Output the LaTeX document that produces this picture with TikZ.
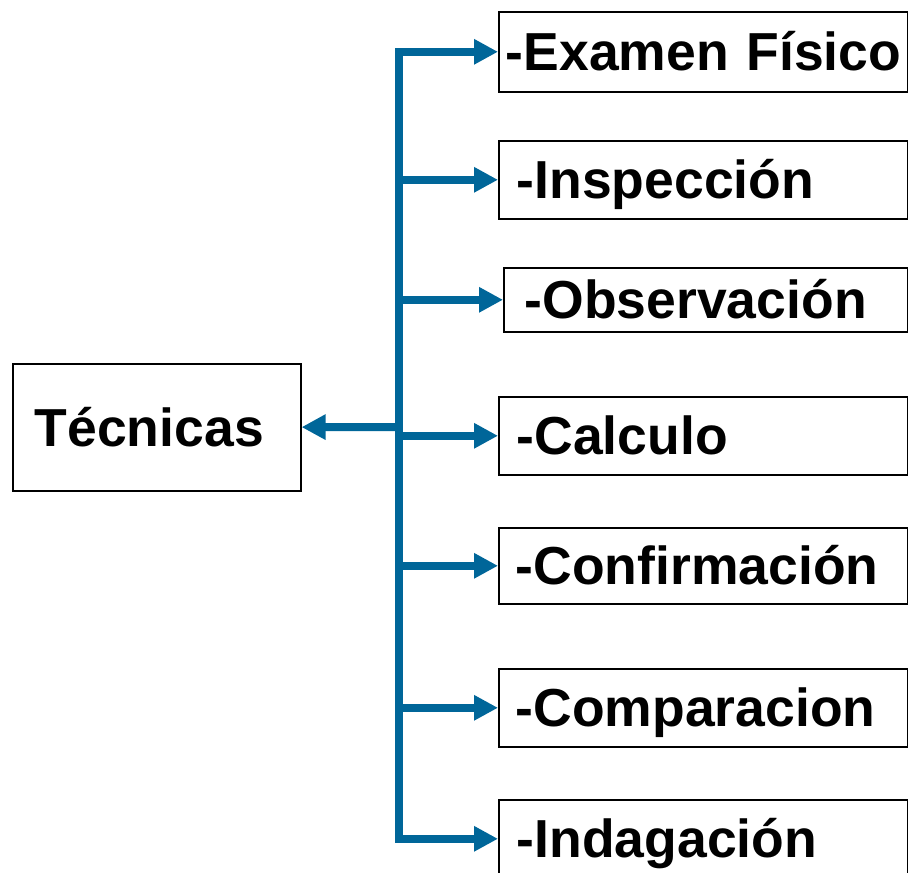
\documentclass[tikz,border=0pt]{standalone}
\usepackage{fontspec}
\setmainfont{Liberation Sans}
\usetikzlibrary{arrows.meta}
\definecolor{flowblue}{RGB}{0,102,153}

\begin{document}
\begin{tikzpicture}[x=1pt,y=-1pt]
\tikzstyle{item}=[draw=black,line width=1.6pt,anchor=north west,align=left,inner ysep=0pt,text height=38pt,text depth=0pt,font=\fontsize{53.5}{60}\selectfont\bfseries]
\tikzstyle{flow}=[draw=flowblue,line width=8pt,-{Triangle[length=24pt,width=24pt]}]

\useasboundingbox (0,0) rectangle (908,873);

%box on the left
\node[item,minimum height=127pt,text width=244pt,inner xsep=22pt] (tec) at (12,363) {Técnicas};

%boxes on the right
\node[item,minimum height=80pt,text width=395pt,inner xsep=7pt] (exam) at (498,11) {\mbox{-Examen Físico}};
\node[item,minimum height=78pt,text width=373pt,inner xsep=18pt] (insp) at (498,140) {-Inspección};
\node[item,minimum height=64pt,text width=362pt,inner xsep=21pt] (obs) at (503,267) {-Observación};
\node[item,minimum height=78pt,text width=373pt,inner xsep=18pt] (calc) at (498,396) {-Calculo};
\node[item,minimum height=76pt,text width=375pt,inner xsep=17pt] (conf) at (498,527) {-Confirmación};
\node[item,minimum height=78pt,text width=375pt,inner xsep=17pt] (comp) at (498,668) {-Comparacion};
\node[item,minimum height=78pt,text width=373pt,inner xsep=18pt] (inda) at (498,799) {-Indagación};

%arrows
\coordinate (hub) at (399,427);
\draw[flow] (hub) -- (tec);
\foreach \n in {exam,insp,obs,calc,conf,comp,inda}
  \draw[flow] (hub) |- (\n);
\end{tikzpicture}
\end{document}
